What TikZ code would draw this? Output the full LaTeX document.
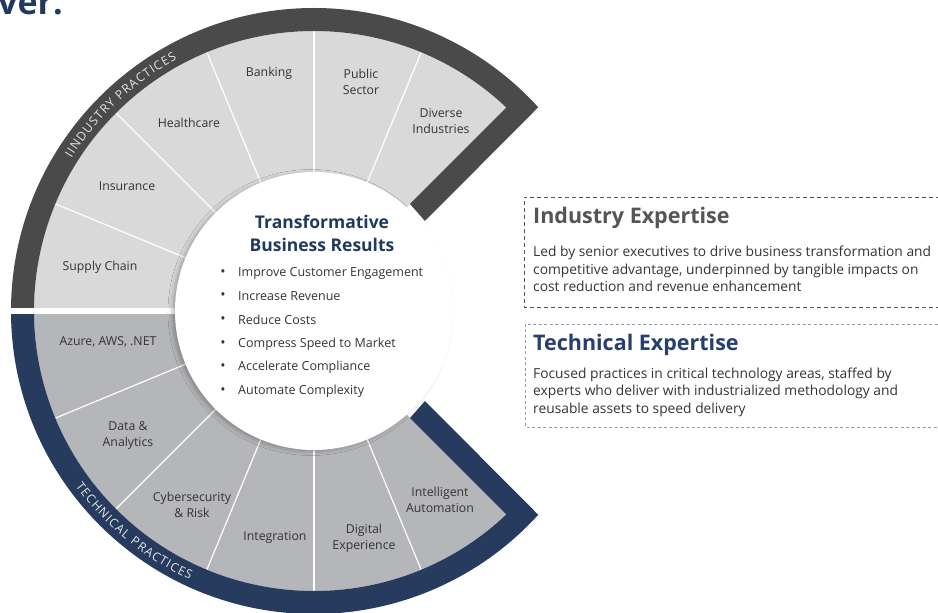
\documentclass[tikz,border=0pt]{standalone}
\usepackage{fontspec}
\setmainfont{Open Sans}
\usetikzlibrary{decorations.text,shadows.blur}
\definecolor{indgray}{HTML}{D9D9D9}
\definecolor{tecgray}{HTML}{B5B6B9}
\definecolor{ringdark}{HTML}{4A4A4A}
\definecolor{ringnavy}{HTML}{263B5E}
\definecolor{titlenavy}{HTML}{22395F}
\definecolor{technavy}{HTML}{263F6E}
\definecolor{txtdark}{HTML}{333333}
\definecolor{boxgray}{HTML}{555555}
\definecolor{boxblue}{HTML}{8E9BB4}
\tikzset{
  seclabel/.style={font=\fontsize{12.3}{16}\selectfont, text=txtdark, align=center, inner sep=0pt},
  divider/.style={white, line width=1.2pt},
  restext/.style={anchor=west, font=\fontsize{12.5}{12.5}\selectfont, text=txtdark, inner sep=0pt},
  bodytext/.style={anchor=west, align=left, font=\fontsize{13.8}{17.5}\selectfont, text=txtdark, inner sep=0pt},
  headtext/.style={anchor=west, font=\fontsize{21.5}{21.5}\selectfont\bfseries, inner sep=0pt},
  ringtext/.style={decorate, decoration={text along path, text align=fit to path, text={|\fontsize{12.2}{12.2}\selectfont\color{white!90!black}|#1}}}
}
\begin{document}
\begin{tikzpicture}[x=1pt, y=1pt]
		\useasboundingbox (-314,-302) rectangle (624,311);
		\node[anchor=base west, font=\fontsize{34}{34}\selectfont\bfseries, text=titlenavy, inner sep=0pt] (headtail) at (-316,296) {ver.};
		
		%sectors
		\fill[indgray] (0,0) -- (180:280) arc[start angle=180, end angle=46.6, radius=280] -- (-11,0) -- cycle;
		\fill[tecgray] (0,0) -- (180:280) arc[start angle=180, end angle=313.4, radius=280] -- (-11,0) -- cycle;
		\foreach \a in {157.5, 135, 112.5, 90, 67.5, 202.5, 225, 247.5, 270, 292.5}{
			\draw[divider] (\a:120) -- (\a:280);
		}
		
		%outer rings
		\fill[ringdark] (180:303) arc[start angle=180, end angle=42.26, radius=303] -- (111,90) -- (96,107) -- (46.6:280) arc[start angle=46.6, end angle=180, radius=280] -- cycle;
		\fill[ringnavy] (180:303) arc[start angle=180, end angle=317.74, radius=303] -- (111,-90) -- (96,-107) -- (313.4:280) arc[start angle=313.4, end angle=180, radius=280] -- cycle;
		\fill[white] (-320,-3.2) rectangle (-100,3.2);
		
		\path[ringtext={IINDUSTRY PRACTICES}] (147.8:286.5) arc[start angle=147.8, end angle=118.6, radius=286.5];
		\path[ringtext={TECHNICAL PRACTICES}] (216.3:296) arc[start angle=216.3, end angle=245.2, radius=296];
		
		%hub
		\node[circle, fill=white, inner sep=0pt, minimum size=278pt, blur shadow={shadow xshift=-3pt, shadow yshift=-1.5pt, shadow blur radius=4pt, shadow opacity=25}] (hub) at (0,0) {};
		\node[font=\fontsize{17.5}{23}\selectfont\bfseries, text=titlenavy, align=center, inner sep=0pt] (hubtitle) at (8,78) {Transformative\\Business Results};
		\foreach \res [count=\i] in {Improve Customer Engagement, Increase Revenue, Reduce Costs, Compress Speed to Market, Accelerate Compliance, Automate Complexity}{
			\node[restext] (res\i) at (-76, {38-(\i-1)*23.6}) {\res};
			\node[font=\fontsize{14}{14}\selectfont, text=txtdark, inner sep=0pt] (dot\i) at (-91, {38-(\i-1)*23.6}) {\textbullet};
		}
		
		%sector labels
		\node[seclabel] (banking) at (-45,238) {Banking};
		\node[seclabel] (public) at (47,229) {Public\\Sector};
		\node[seclabel] (diverse) at (127,190) {Diverse\\Industries};
		\node[seclabel] (health) at (-125,188) {Healthcare};
		\node[seclabel] (insur) at (-187,125) {Insurance};
		\node[seclabel] (supply) at (-214,44) {Supply Chain};
		\node[seclabel] (azure) at (-206,-31) {Azure, AWS, .NET};
		\node[seclabel] (data) at (-186,-125) {Data \&\\Analytics};
		\node[seclabel] (cyber) at (-122,-194) {Cybersecurity\\\& Risk};
		\node[seclabel] (integ) at (-39,-226) {Integration};
		\node[seclabel] (digital) at (50,-227) {Digital\\Experience};
		\node[seclabel] (intauto) at (126,-189) {Intelligent\\Automation};
		
		%expertise boxes
		\draw[boxgray, line width=0.9pt, dash pattern=on 4pt off 3pt] (640,114) -- (210,114) -- (210,4) -- (640,4);
		\node[headtext, text=boxgray] (indhead) at (219,93) {Industry Expertise};
		\node[bodytext] (indbody) at (219,42) {Led by senior executives to drive business transformation and\\competitive advantage, underpinned by tangible impacts on\\cost reduction and revenue enhancement};
		\draw[boxblue, line width=0.8pt, dash pattern=on 3pt off 2.5pt] (640,-13) -- (211,-13) -- (211,-116) -- (640,-116);
		\node[headtext, text=technavy] (techead) at (219,-34) {Technical Expertise};
		\node[bodytext] (tecbody) at (219,-81) {Focused practices in critical technology areas, staffed by\\experts who deliver with industrialized methodology and\\reusable assets to speed delivery};
\end{tikzpicture}
\end{document}
